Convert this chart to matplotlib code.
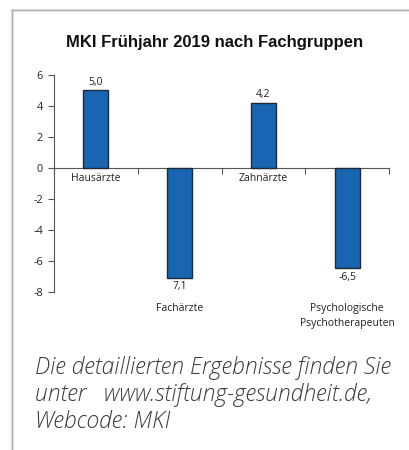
import matplotlib
matplotlib.use("Agg")
import matplotlib.pyplot as plt
from matplotlib.lines import Line2D

categories = ["Hausärzte", "Fachärzte", "Zahnärzte", "Psychologische\nPsychotherapeuten"]
values = [5.0, -7.1, 4.2, -6.5]
value_labels = ["5,0", "7,1", "4,2", "-6,5"]
yticks = [-8, -6, -4, -2, 0, 2, 4, 6]

title = "MKI Frühjahr 2019 nach Fachgruppen"
footer = "Die detaillierten Ergebnisse finden Sie\nunter   www.stiftung-gesundheit.de,\nWebcode: MKI"

fig = plt.figure(figsize=(4.09, 4.5), dpi=100)
fig.patch.set_facecolor("white")

# frame round the box (top and left edge only)
fig.add_artist(Line2D([12/409, 1], [1 - 10/450, 1 - 10/450], color="#e6e6e6", lw=2.5))
fig.add_artist(Line2D([12/409, 12/409], [0, 1 - 10/450], color="#e6e6e6", lw=2.5))
fig.add_artist(Line2D([12/409, 1], [1 - 10/450, 1 - 10/450], color="#b0b0b0", lw=0.9))
fig.add_artist(Line2D([12/409, 12/409], [0, 1 - 10/450], color="#b0b0b0", lw=0.9))

ax = fig.add_axes([54/409, 1 - 291.7/450, (389 - 54)/409, (291.7 - 74.7)/450])

fnt = "Open Sans"
xs = [i + 0.5 for i in range(len(values))]
ax.bar(xs, values, width=0.3, color="#1a65b2", edgecolor="#1e2a38", linewidth=1.0, zorder=3)

ax.set_xlim(0, 4)
ax.set_ylim(-8, 6)
ax.set_yticks(yticks)
ax.set_yticklabels([str(t) for t in yticks], fontsize=7.8, family=fnt, color="#222222")
ax.set_xticks(range(5))
ax.set_xticklabels([])

for s in ["top", "right"]:
    ax.spines[s].set_visible(False)
ax.spines["bottom"].set_position(("data", 0))
ax.spines["left"].set_color("#555555")
ax.spines["bottom"].set_color("#555555")
ax.tick_params(axis="y", length=4, color="#555555", pad=4)
ax.tick_params(axis="x", length=4, color="#555555", direction="out")

for x, v, lab in zip(xs, values, value_labels):
    if v > 0:
        ax.text(x, v + 0.15, lab, ha="center", va="bottom", fontsize=7.5, family=fnt, color="#222222")
    else:
        ax.text(x, v - 0.2, lab, ha="center", va="top", fontsize=7.5, family=fnt, color="#222222")

for x, v, cat in zip(xs, values, categories):
    if v > 0:
        ax.text(x, -0.35, cat, ha="center", va="top", fontsize=7.5, family=fnt, color="#222222")
    else:
        ax.text(x, -8.75, cat, ha="center", va="top", fontsize=7.5, family=fnt, color="#222222",
                linespacing=1.45)

fig.text(215/409, 1 - 43/450, title, ha="center", va="center", fontsize=12,
         fontweight="bold", family="Liberation Sans", color="#111111")

fig.text(35/409, 1 - 356/450, footer, ha="left", va="top", fontsize=16.5,
         family="Open Sans", fontweight="light", style="italic", color="#3a3a3a",
         linespacing=1.17)

fig.savefig("out.png", dpi=100)
